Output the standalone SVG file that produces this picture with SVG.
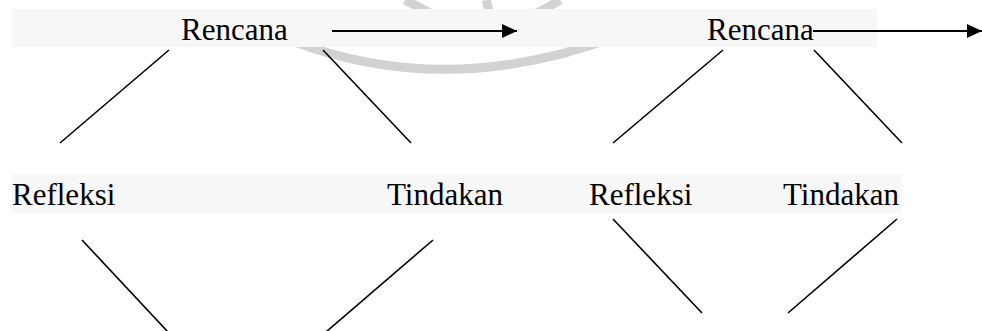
<svg xmlns="http://www.w3.org/2000/svg" width="982" height="331" viewBox="0 0 982 331">
<style>
.lbl{font-family:"Liberation Serif","Times New Roman",serif;font-size:31px;fill:#000}
.band{fill:#f7f7f7}
.wm{fill:none;stroke:#d2d2d2;stroke-width:9}
.ln{stroke:#000;stroke-width:1.6;fill:none}
.ar{stroke:#000;stroke-width:2;fill:none}
</style>
<defs>
<marker id="ah" markerWidth="15" markerHeight="14" refX="15" refY="7" orient="auto" markerUnits="userSpaceOnUse">
<path d="M0,0 L15,7 L0,14 Z" fill="#000"/>
</marker>
</defs>
<rect width="982" height="331" fill="#fff"/>
<g id="watermark">
<path class="wm" d="M295,42 Q450,100 620,35"/>
<path class="wm" d="M405,0 L432,14"/>
<path class="wm" d="M486,0 L490,14"/>
<path class="wm" d="M560,0 Q530,20 485,30"/>
</g>
<rect class="band" x="12" y="9" width="865" height="38"/>
<rect class="band" x="12" y="174" width="890" height="39"/>
<g id="connectors">
<line class="ar" x1="332" y1="31" x2="517" y2="31" marker-end="url(#ah)"/>
<line class="ar" x1="813" y1="31" x2="982" y2="31" marker-end="url(#ah)"/>
<line class="ln" x1="169" y1="50" x2="60" y2="143"/>
<line class="ln" x1="323" y1="50" x2="411" y2="143"/>
<line class="ln" x1="723" y1="50" x2="613" y2="143"/>
<line class="ln" x1="814" y1="50" x2="902" y2="143"/>
<line class="ln" x1="82" y1="240" x2="168" y2="332"/>
<line class="ln" x1="433" y1="240" x2="326" y2="332"/>
<line class="ln" x1="613" y1="219" x2="702" y2="313"/>
<line class="ln" x1="897" y1="219" x2="788" y2="313"/>
</g>
<g id="rencana1"><text class="lbl" x="181" y="40">Rencana</text></g>
<g id="rencana2"><text class="lbl" x="707" y="40">Rencana</text></g>
<g id="refleksi1"><text class="lbl" x="12" y="205">Refleksi</text></g>
<g id="tindakan1"><text class="lbl" x="387" y="205">Tindakan</text></g>
<g id="refleksi2"><text class="lbl" x="589" y="205">Refleksi</text></g>
<g id="tindakan2"><text class="lbl" x="783" y="205">Tindakan</text></g>
</svg>
